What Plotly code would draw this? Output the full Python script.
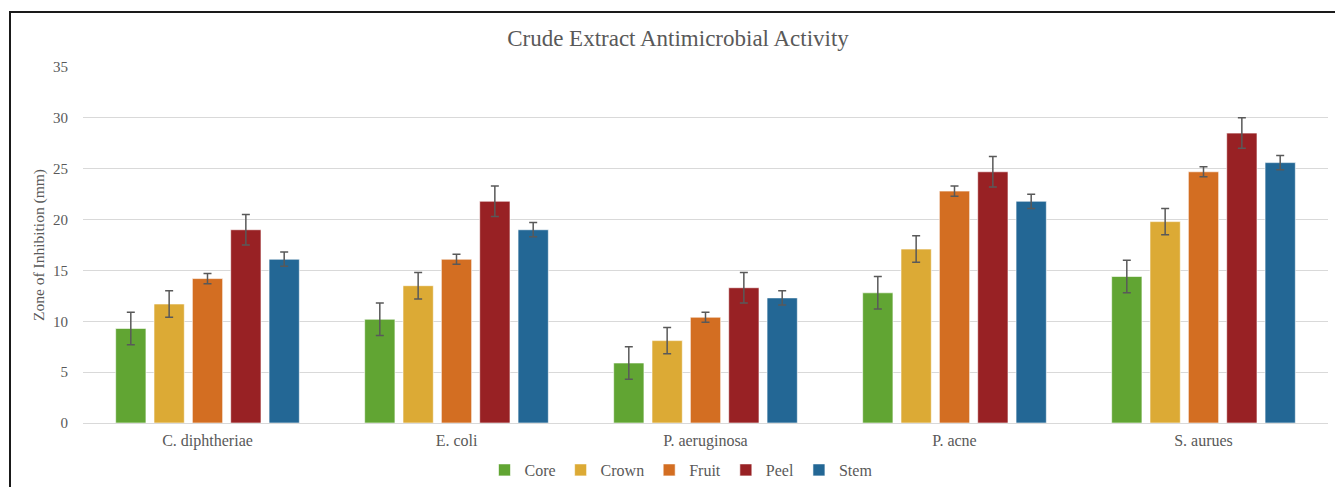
import plotly.graph_objects as go

categories = ["C. diphtheriae", "E. coli", "P. aeruginosa", "P. acne", "S. aurues"]
series_names = ["Core", "Crown", "Fruit", "Peel", "Stem"]
core = [9.3, 10.2, 5.9, 12.8, 14.4]
crown = [11.7, 13.5, 8.1, 17.1, 19.8]
fruit = [14.2, 16.1, 10.4, 22.8, 24.7]
peel = [19.0, 21.8, 13.3, 24.7, 28.5]
stem = [16.1, 19.0, 12.3, 21.8, 25.6]
core_err = [1.6, 1.6, 1.6, 1.6, 1.6]
crown_err = [1.3, 1.3, 1.3, 1.3, 1.3]
fruit_err = [0.5, 0.5, 0.5, 0.5, 0.5]
peel_err = [1.5, 1.5, 1.5, 1.5, 1.5]
stem_err = [0.7, 0.7, 0.7, 0.7, 0.7]
y_ticks = [0, 5, 10, 15, 20, 25, 30, 35]

values = [core, crown, fruit, peel, stem]
errors = [core_err, crown_err, fruit_err, peel_err, stem_err]
colors = ["#61a533", "#dcaa35", "#d36e22", "#982124", "#236795"]

FONT = "Liberation Serif"
GRAY = "#595959"

fig = go.Figure()
for name, vals, errs, col in zip(series_names, values, errors, colors):
    fig.add_trace(go.Bar(
        name=name, x=categories, y=vals, marker_color=col,
        marker_line=dict(color="rgba(255,255,255,0.6)", width=1),
        error_y=dict(type="data", array=errs, visible=True, color=GRAY,
                     thickness=1.5, width=4),
    ))

W, H = 1335, 487
L, R, T, B = 83, 7, 67, 64
pw, ph = W - L - R, H - T - B

def px_to_paper_x(px):
    return (px - L) / pw

def px_to_paper_y(py):
    return (H - B - py) / ph

fig.update_layout(
    width=W, height=H,
    margin=dict(l=L, r=R, t=T, b=B, autoexpand=False),
    paper_bgcolor="white", plot_bgcolor="white",
    barmode="group", bargap=0.23, bargroupgap=0.21,
    font=dict(family=FONT, color=GRAY, size=15),
    title=dict(text="Crude Extract Antimicrobial Activity",
               x=px_to_paper_x(678), xref="paper", xanchor="center",
               y=1 - 38 / H, yref="container", yanchor="middle",
               font=dict(family=FONT, size=23, color=GRAY)),
    legend=dict(orientation="h", x=px_to_paper_x(681), xanchor="center",
                y=px_to_paper_y(470), yanchor="middle",
                font=dict(family=FONT, size=16, color=GRAY),
                itemwidth=30, traceorder="normal", tracegroupgap=0),
    xaxis=dict(showgrid=False, showline=False, ticks="",
               ticklabelstandoff=6,
               tickfont=dict(family=FONT, size=16, color=GRAY)),
    yaxis=dict(range=[0, 35], tickvals=y_ticks, showgrid=True,
               gridcolor="#d9d9d9", gridwidth=1, zeroline=True,
               zerolinecolor="#d9d9d9", zerolinewidth=1, ticks="",
               ticklabelstandoff=14,
               tickfont=dict(family=FONT, size=15, color=GRAY),
               title=dict(text="Zone of Inhibition (mm)", standoff=4,
                          font=dict(family=FONT, size=15.5, color=GRAY))),
    shapes=[dict(type="rect", xref="paper", yref="paper",
                 x0=px_to_paper_x(10), x1=px_to_paper_x(1345),
                 y0=px_to_paper_y(500), y1=px_to_paper_y(12),
                 line=dict(color="#1a1a1a", width=2), layer="above")],
)

fig.write_html("out.html", config={"displayModeBar": False},
               post_script="document.body.style.margin='0';document.body.style.overflow='hidden';")
